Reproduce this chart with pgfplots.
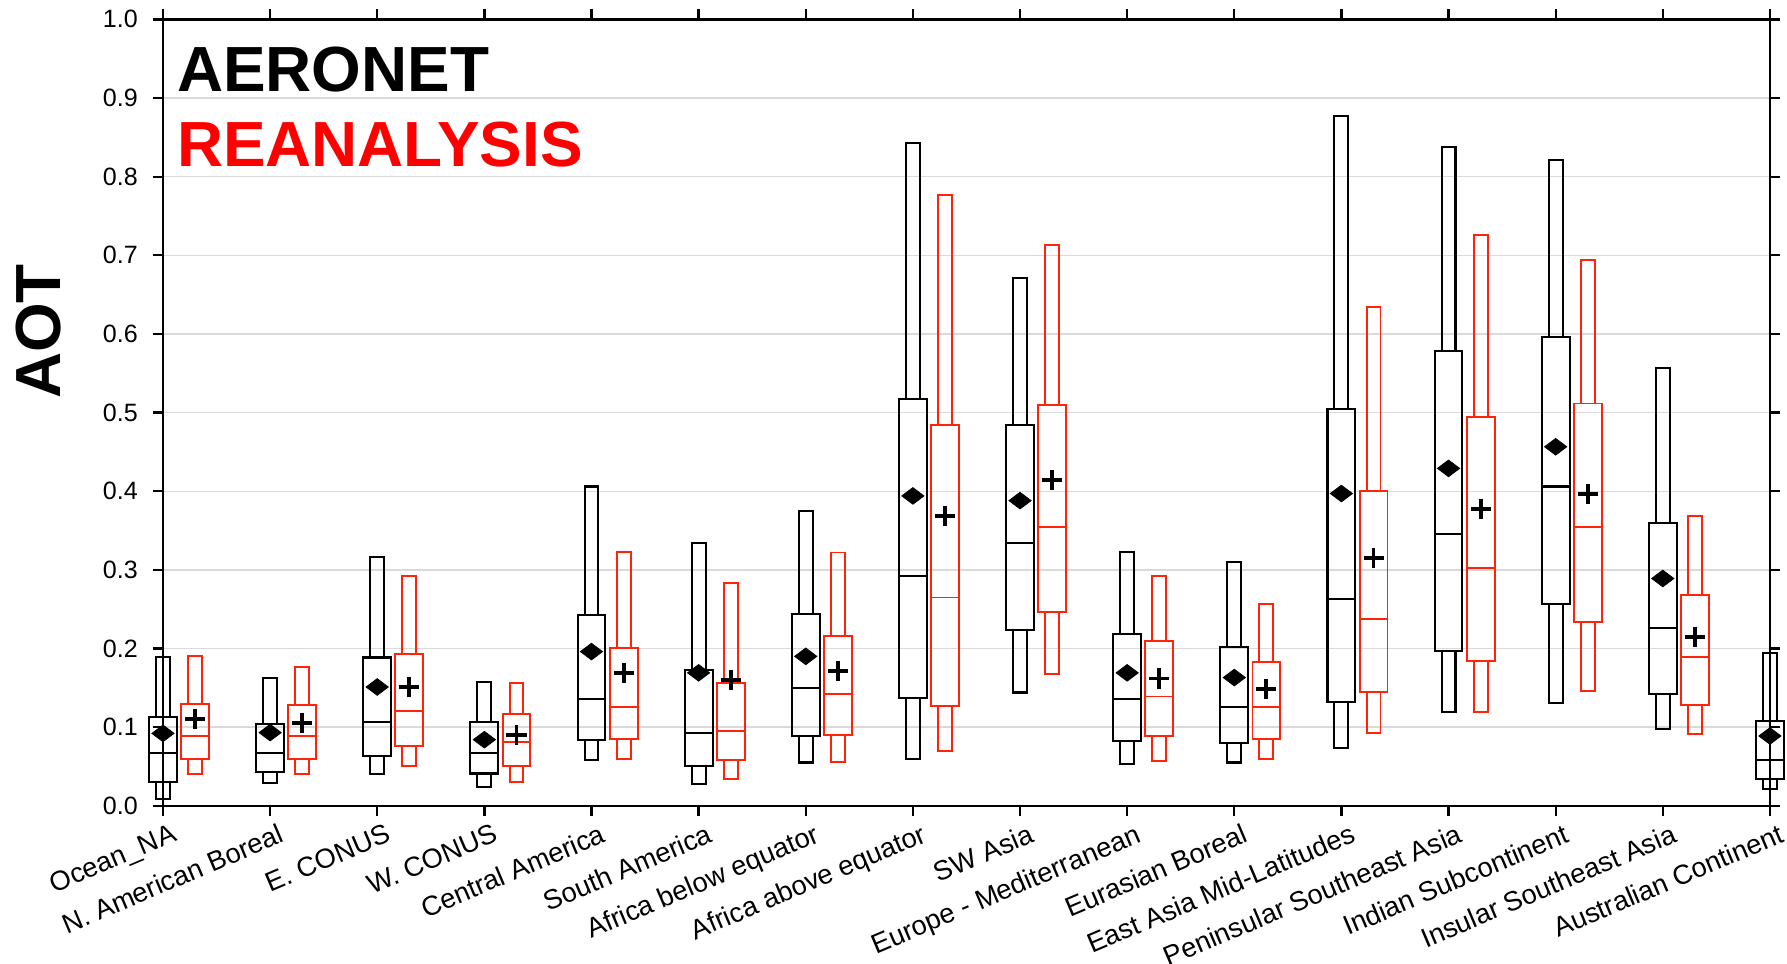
\documentclass[border=0pt]{standalone}
\usepackage{pgfplots}
\pgfplotsset{compat=1.18}
\usepackage{pgfplotstable}
\usepgfplotslibrary{statistics}
\usepackage{fontspec}
\setmainfont{Liberation Sans}
\definecolor{boxred}{RGB}{255,35,10}
\definecolor{gridgray}{RGB}{218,218,218}

% AERONET (black)
\pgfplotstableread{
pos lw    lq     med    uq     uw     mean
0   0.009 0.030  0.0675 0.113  0.189  0.092
1   0.029 0.043  0.067  0.1045 0.162  0.093
2   0.040 0.063  0.107  0.1885 0.316  0.151
3   0.024 0.041  0.0675 0.106  0.157  0.084
4   0.058 0.084  0.1355 0.242  0.406  0.196
5   0.028 0.051  0.092  0.173  0.334  0.169
6   0.055 0.089  0.1495 0.2437 0.3745 0.190
7   0.059 0.137  0.292  0.5176 0.8424 0.394
8   0.144 0.224  0.334  0.4845 0.6714 0.388
9   0.053 0.0824 0.1355 0.218  0.3225 0.169
10  0.055 0.080  0.125  0.2013 0.3104 0.163
11  0.074 0.1316 0.263  0.5042 0.8776 0.397
12  0.119 0.197  0.346  0.578  0.8372 0.429
13  0.1304 0.256 0.406  0.596  0.8216 0.4565
14  0.098 0.1423 0.2263 0.360  0.5568 0.289
15  0.021 0.034  0.0586 0.1074 0.194  0.0887
}\aeronet

% REANALYSIS (red)
\pgfplotstableread{
pos lw     lq     med    uq     uw     mean
0   0.040  0.060  0.089  0.1295 0.190  0.110
1   0.040  0.0595 0.089  0.1287 0.177  0.1057
2   0.050  0.076  0.121  0.1924 0.2926 0.151
3   0.030  0.0505 0.081  0.117  0.156  0.0896
4   0.060  0.085  0.1257 0.2004 0.323  0.169
5   0.034  0.058  0.095  0.156  0.2837 0.160
6   0.056  0.090  0.1418 0.216  0.322  0.1716
7   0.070  0.1274 0.2648 0.484  0.7771 0.368
8   0.1674 0.246  0.3543 0.5099 0.7129 0.4145
9   0.0573 0.0892 0.1389 0.210  0.2917 0.1618
10  0.059  0.0854 0.1257 0.1826 0.256  0.1482
11  0.093  0.1448 0.2376 0.4004 0.6342 0.3145
12  0.1197 0.1843 0.3026 0.494  0.7257 0.3776
13  0.1465 0.2335 0.3541 0.5115 0.694  0.3964
14  0.0913 0.128  0.1886 0.2685 0.369  0.2151
}\reana

\pgfplotsset{
  boxplot/draw direction=y,
  boxplot/draw/box/.code={%
    \draw[/pgfplots/boxplot/every box/.try]
      (boxplot box cs:\pgfplotsboxplotvalue{lower quartile},0)
      rectangle
      (boxplot box cs:\pgfplotsboxplotvalue{upper quartile},1);
  },
  boxplot/draw/median/.code={%
    \draw[/pgfplots/boxplot/every median/.try]
      (boxplot box cs:\pgfplotsboxplotvalue{median},0)
      --
      (boxplot box cs:\pgfplotsboxplotvalue{median},1);
  },
  boxplot/draw/lower whisker/.code={%
    \draw[/pgfplots/boxplot/every whisker/.try]
      (boxplot box cs:\pgfplotsboxplotvalue{lower whisker},0.25)
      rectangle
      (boxplot box cs:\pgfplotsboxplotvalue{lower quartile},0.75);
  },
  boxplot/draw/upper whisker/.code={%
    \draw[/pgfplots/boxplot/every whisker/.try]
      (boxplot box cs:\pgfplotsboxplotvalue{upper quartile},0.25)
      rectangle
      (boxplot box cs:\pgfplotsboxplotvalue{upper whisker},0.75);
  },
}

% draw one prepared boxplot from row #2 of table #1 at position #3 with style #4
\newcommand\boxrow[4]{%
  \pgfplotstablegetelem{#2}{lw}\of#1\let\bLW\pgfplotsretval
  \pgfplotstablegetelem{#2}{lq}\of#1\let\bLQ\pgfplotsretval
  \pgfplotstablegetelem{#2}{med}\of#1\let\bMD\pgfplotsretval
  \pgfplotstablegetelem{#2}{uq}\of#1\let\bUQ\pgfplotsretval
  \pgfplotstablegetelem{#2}{uw}\of#1\let\bUW\pgfplotsretval
  \edef\btmp{\noexpand\addplot[#4,
    boxplot prepared={draw direction=y, lower whisker=\bLW, lower quartile=\bLQ, median=\bMD,
      upper quartile=\bUQ, upper whisker=\bUW, draw position=#3, box extend=0.26}]
    coordinates {};}%
  \btmp
}

\begin{document}
\begin{tikzpicture}
\begin{axis}[
  scale only axis,
  width=705pt, height=345pt,
  xmin=0, xmax=15, ymin=0, ymax=1,
  clip=false,
  axis line style={line width=1pt},
  tick align=outside,
  major tick length=4.5pt,
  every tick/.style={black, line width=1pt},
  xtick={0,1,...,15},
  xticklabels={Ocean\_NA, N. American Boreal, E. CONUS, W. CONUS, Central America, South America, Africa below equator, Africa above equator, SW Asia, Europe - Mediterranean, Eurasian Boreal, East Asia Mid-Latitudes, Peninsular Southeast Asia, Indian Subcontinent, Insular Southeast Asia, Australian Continent},
  x tick label style={rotate=23, anchor=north east, inner sep=1pt, xshift=3pt, yshift=-3pt, font=\fontsize{12}{14}\selectfont},
  ytick={0,0.1,0.2,0.3,0.4,0.5,0.6,0.7,0.8,0.9,1.0},
  y tick label style={/pgf/number format/.cd, fixed, fixed zerofill, precision=1, /tikz/.cd, font=\fontsize{11}{13}\selectfont, xshift=-3pt},
  /pgf/number format/assume math mode=true,
  ymajorgrids,
  grid style={gridgray, line width=0.6pt},
]
\coordinate (BL) at (rel axis cs:0,0);
\coordinate (TR) at (rel axis cs:1,1);

\pgfplotsinvokeforeach{0,...,15}{
  \boxrow{\aeronet}{#1}{#1}{draw=black, line width=0.9pt}
}
\pgfplotsinvokeforeach{0,...,14}{
  \boxrow{\reana}{#1}{#1.3}{draw=boxred, line width=0.85pt}
}

\addplot[only marks, mark=diamond*, mark size=4.9pt,
  mark options={rotate=90, fill=black, draw=black, line width=0.3pt}]
  table[x=pos, y=mean] {\aeronet};
\addplot[only marks, mark=+, mark size=4.4pt,
  mark options={line width=1.7pt, draw=black}]
  table[x expr=\thisrow{pos}+0.3, y=mean] {\reana};

\node[anchor=base west, font=\bfseries\fontsize{28}{30}\selectfont, text=black, inner sep=0pt]
  at ([shift={(6pt,-31.5pt)}]rel axis cs:0,1) {AERONET};
\node[anchor=base west, font=\bfseries\fontsize{28}{30}\selectfont, text=red, inner sep=0pt]
  at ([shift={(6pt,-64.5pt)}]rel axis cs:0,1) {REANALYSIS};
\node[rotate=90, anchor=center, font=\bfseries\fontsize{28}{30}\selectfont, inner sep=0pt]
  at ([shift={(-54.75pt,0pt)}]rel axis cs:0,0.603) {AOT};
\end{axis}
\pgfresetboundingbox
\path[use as bounding box] ([shift={(-71.5pt,-69pt)}]BL) rectangle ([shift={(7.5pt,8.5pt)}]TR);
\end{tikzpicture}
\end{document}
